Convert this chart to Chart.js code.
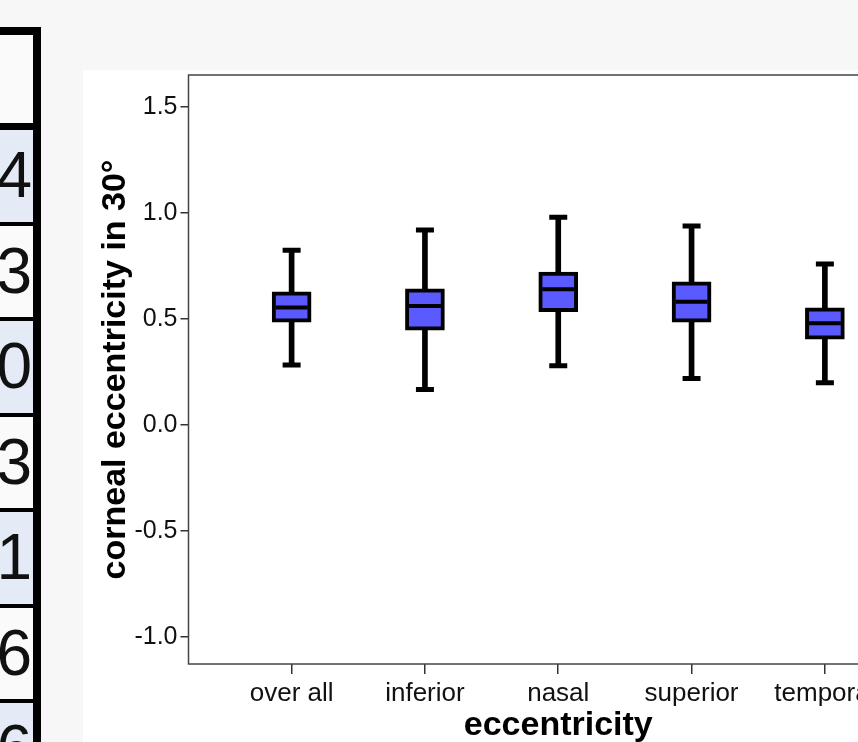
<!DOCTYPE html>
<html>
<head>
<meta charset="utf-8">
<script src="https://cdn.jsdelivr.net/npm/chart.js@4.4.1/dist/chart.umd.min.js"></script>
<style>
html, body { margin: 0; padding: 0; width: 858px; height: 742px; overflow: hidden; background: #f7f7f7; font-family: "Liberation Sans", Arial, sans-serif; }
#tabla { position: absolute; left: -100px; top: 27px; width: 133px; border-top: 8px solid #000; border-right: 8px solid #000; }
#tabla div { box-sizing: content-box; height: 91.5px; border-bottom: 4px solid #000; font-size: 64px; line-height: 91.5px; text-align: right; padding-right: 1px; color: #111; background: #fafafa; }
#tabla div.cabecera { height: 88px; border-bottom-width: 7px; }
#tabla div.azul { background: #e4ebf6; }
#panel { position: absolute; left: 83px; top: 70px; width: 900px; height: 700px; background: #fff; }
#grafico { position: absolute; left: 83px; top: 55px; }
</style>
</head>
<body>
<div id="tabla"></div>
<div id="panel"></div>
<canvas id="grafico" width="900" height="715"></canvas>
<script>
// datos
const categorias = ['over all', 'inferior', 'nasal', 'superior', 'temporal'];
const minimos  = [0.283, 0.168, 0.280, 0.220, 0.200];
const cuartil1 = [0.485, 0.447, 0.535, 0.485, 0.405];
const medianas = [0.555, 0.561, 0.640, 0.582, 0.480];
const cuartil3 = [0.628, 0.642, 0.722, 0.675, 0.553];
const maximos  = [0.825, 0.920, 0.980, 0.939, 0.759];
const ticksY = [-1.0, -0.5, 0.0, 0.5, 1.0, 1.5];
const filasTabla = ['4', '3', '0', '3', '1', '6', '6'];

// tabla de la izquierda
var tabla = document.getElementById('tabla');
var cab = document.createElement('div');
cab.className = 'cabecera';
tabla.appendChild(cab);
filasTabla.forEach(function(t, i) {
    var d = document.createElement('div');
    if (i % 2 === 0) d.className = 'azul';
    d.textContent = t;
    tabla.appendChild(d);
});

// marco del area del grafico
const marco = {
    id: 'marco',
    beforeDatasetsDraw(chart) {
        const a = chart.chartArea;
        const ctx = chart.ctx;
        ctx.save();
        ctx.strokeStyle = '#444';
        ctx.lineWidth = 1.5;
        ctx.strokeRect(a.left, a.top, a.right - a.left, a.bottom - a.top);
        ctx.restore();
    }
};

const ctx = document.getElementById('grafico').getContext('2d');

new Chart(ctx, {
    type: 'bar',
    data: {
        datasets: [
            {
                label: 'bigotes',
                data: categorias.map((c, i) => ({ x: i, y: [minimos[i], maximos[i]] })),
                backgroundColor: '#000',
                barThickness: 5,
                grouped: false,
                order: 3
            },
            {
                label: 'caja',
                data: categorias.map((c, i) => ({ x: i, y: [cuartil1[i], cuartil3[i]] })),
                backgroundColor: '#5a5aff',
                borderColor: '#000',
                borderWidth: 4,
                borderSkipped: false,
                barThickness: 39,
                grouped: false,
                order: 2
            },
            {
                type: 'scatter',
                label: 'mediana',
                data: categorias.map((c, i) => ({ x: i, y: medianas[i] })),
                pointStyle: 'line',
                radius: 16,
                borderWidth: 4,
                borderColor: '#000',
                order: 1
            },
            {
                type: 'scatter',
                label: 'topes',
                data: categorias.map((c, i) => ({ x: i, y: minimos[i] }))
                    .concat(categorias.map((c, i) => ({ x: i, y: maximos[i] }))),
                pointStyle: 'line',
                radius: 9,
                borderWidth: 5,
                borderColor: '#000',
                order: 1
            }
        ]
    },
    options: {
        responsive: false,
        animation: false,
        events: [],
        layout: { padding: { top: 5, right: 55, left: 0, bottom: 0 } },
        plugins: { legend: { display: false }, tooltip: { enabled: false } },
        scales: {
            x: {
                type: 'linear',
                position: 'bottom',
                offset: false,
                min: -0.7735,
                max: 4.7735,
                afterBuildTicks: s => { s.ticks = categorias.map((c, i) => ({ value: i })); },
                afterFit: s => { s.height = 106; s.paddingLeft = 0; s.paddingRight = 0; },
                ticks: {
                    callback: v => categorias[v],
                    autoSkip: false,
                    maxRotation: 0,
                    padding: 4,
                    color: '#111',
                    font: { family: 'Liberation Sans', size: 26 }
                },
                grid: { offset: false, drawOnChartArea: false, drawTicks: true, tickLength: 10, color: '#333', lineWidth: 1.5 },
                border: { display: false },
                title: {
                    display: true,
                    text: 'eccentricity',
                    color: '#000',
                    font: { family: 'Liberation Sans', size: 34, weight: 'bold' },
                    padding: { top: 0, bottom: 24 }
                }
            },
            y: {
                type: 'linear',
                min: -1.127,
                max: 1.651,
                afterBuildTicks: s => { s.ticks = ticksY.map(v => ({ value: v })); },
                afterFit: s => { s.width = 105.5; s.paddingTop = 0; s.paddingBottom = 0; },
                ticks: {
                    callback: v => v.toFixed(1),
                    padding: 3,
                    color: '#111',
                    font: { family: 'Liberation Sans', size: 25 }
                },
                grid: { drawOnChartArea: false, drawTicks: true, tickLength: 8, color: '#333', lineWidth: 1.5 },
                border: { display: false },
                title: {
                    display: true,
                    text: 'corneal eccentricity in 30°',
                    color: '#000',
                    font: { family: 'Liberation Sans', size: 34, weight: 'bold' },
                    padding: { top: 12, bottom: 0 }
                }
            }
        }
    },
    plugins: [marco]
});
</script>
</body>
</html>
